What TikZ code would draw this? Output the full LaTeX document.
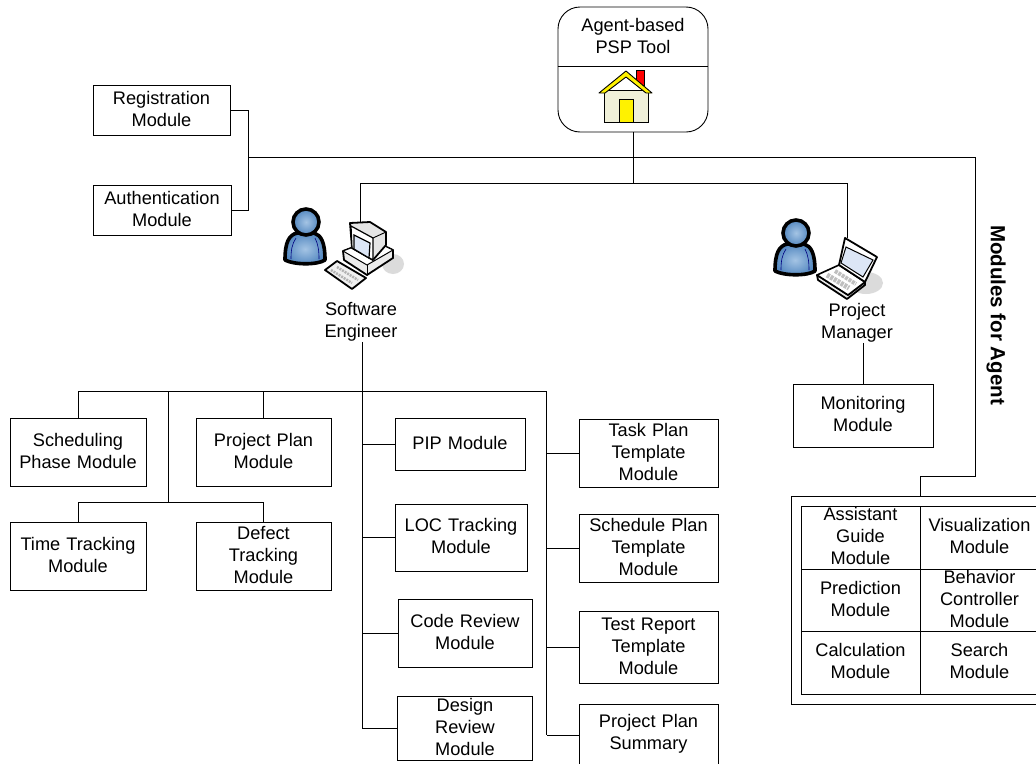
\documentclass[tikz,border=0pt]{standalone}
\usepackage{fontspec}
\setmainfont{Liberation Sans}
\usetikzlibrary{positioning, calc}
\definecolor{myskin}{HTML}{F0F0D8}
\definecolor{mylight}{HTML}{A4C4E4}
\definecolor{myface}{HTML}{5488C0}
\definecolor{myscreen}{HTML}{DCE6F6}
\tikzset{
  person/.pic={
    \draw[line width=3.6pt,line join=round,inner color=mylight,outer color=myface]
      (-9,11) .. controls (-17,13) and (-21,20) .. (-21,38)
      .. controls (-12,43) and (12,43) .. (19,38)
      .. controls (19,20) and (15,13) .. (8,11) -- cycle;
    \draw[line width=3.6pt,inner color=mylight,outer color=myface] (0,0) circle (13);
    \draw[blue!50!black,line width=.6pt] (-15,37) .. controls (-15,28) and (-14,22) .. (-10,16);
    \draw[blue!50!black,line width=.6pt] (13,37) .. controls (13,28) and (12,22) .. (9,16);
  }
}
\begin{document}
\begin{tikzpicture}[x=1pt,y=-1pt,line width=.9pt,node distance=95pt]
  \tikzstyle{module}=[rectangle,draw,align=center,inner sep=0pt,text width=130pt,text height=10.5pt,minimum height=68pt,font=\fontsize{18.2}{22}\selectfont]
  \tikzstyle{label}=[align=center,inner sep=0pt,font=\fontsize{18.2}{22}\selectfont]
  \tikzstyle{cell}=[module,text width=117pt,minimum width=119pt,minimum height=63pt]
  \useasboundingbox (0,0) rectangle (1036,763);

  \node[module,minimum width=137pt,minimum height=50pt] (reg) at (161.5,110) {Registration\\Module};
  \node[module,minimum width=138pt,minimum height=50pt] (auth) at (162,210) {Authentication\\Module};

  \node[module,minimum width=136pt] (sched) at (78,452) {Scheduling\\Phase Module};
  \node[module,minimum width=135pt] (plan) at (263.5,452) {Project Plan\\Module};
  \node[module,minimum width=136pt] (time) at (78,556) {Time Tracking\\Module};
  \node[module,minimum width=135pt] (defect) at (263.5,556) {Defect\\Tracking\\Module};

  \node[module,minimum width=130pt,minimum height=52pt] (pip) at (460,444) {PIP Module};
  \node[module,minimum width=132pt,minimum height=67pt] (loc) at (461,537.5) {LOC Tracking\\Module};
  \node[module,minimum width=134pt] (code) at (465,633.5) {Code Review\\Module};
  \node[module,minimum width=135pt,minimum height=64pt] (design) [below of=code] {Design\\Review\\Module};

  \node[module,minimum width=139pt] (task) at (648.5,453) {Task Plan\\Template\\Module};
  \node[module,minimum width=139pt] (schedt) [below of=task] {Schedule Plan\\Template\\Module};
  \node[module,minimum width=139pt,minimum height=72pt] (test) [below of=schedt,node distance=99pt] {Test Report\\Template\\Module};
  \node[module,minimum width=139pt,minimum height=62pt] (summary) at (648.5,735) {Project Plan\\Summary};

  \node[module,minimum width=140pt,minimum height=63pt] (monitor) at (863,415.5) {Monitoring\\Module};

  % tool box on top
  \node[draw,rounded corners=22pt,minimum width=150pt,minimum height=125pt,inner sep=0pt] (root) at (633,69.5) {};
  \node[label] (title) at (633,36) {Agent-based\\PSP Tool};
  \draw (root.west |- 0,66) -- (root.east |- 0,66);
  \draw[fill=red] (636,70) rectangle (644,85);
  \draw[fill=myskin] (604,90) rectangle (648,122);
  \draw[fill=yellow,line join=round] (599,93) -- (626,71) -- (652,93) -- (646,93) -- (626,77) -- (605,93) -- cycle;
  \draw[fill=yellow] (619,99) rectangle (633,122);

  % users
  \pic at (306,222) {person};
  \pic at (796,233) {person};
  \fill[black!14] (393,264) ellipse (11 and 10);
  \fill[black!14] (866,283) ellipse (17 and 11);

  % desktop computer
  \draw[line width=1.8pt,line join=round,fill=black!8] (343,251) -- (344,260) -- (367,275) -- (393,258) -- (393,250) -- (372,240) -- cycle;
  \draw[line width=1pt,line join=round,fill=white] (343,251) -- (367,265) -- (393,250) -- (372,240) -- cycle;
  \draw[line width=.8pt] (367,265) -- (367,275);
  \draw[line width=1.8pt,line join=round,fill=black!10] (350,223) -- (370,222) -- (386,232) -- (386,245) -- (373,260) -- (352,248) -- cycle;
  \draw[line width=1.2pt,line join=round,fill=white] (351,226) -- (373,238) -- (373,260) -- (352,248) -- cycle;
  \draw[line width=1.2pt,fill=myscreen] (354,235) -- (370,243) -- (369,258) -- (354,249) -- cycle;
  \draw[line width=.9pt] (373,238) -- (386,232);
  \draw[line width=1.8pt,line join=round,fill=black!6] (325,270) -- (337,261) -- (366,278) -- (352,289) -- cycle;
  \draw[black!30,line width=2.5pt,dash pattern=on 2pt off 1pt] (331,270) -- (352,283);
  \draw[black!30,line width=2.5pt,dash pattern=on 2pt off 1pt] (337,267) -- (358,280);

  % laptop
  \draw[line width=1.8pt,line join=round,fill=black!8] (817,275) -- (818,280) -- (847,299) -- (865,285) -- (865,282) -- (848,295) -- cycle;
  \draw[line width=1.6pt,line join=round,fill=white] (817,275) -- (839,265) -- (865,282) -- (848,295) -- cycle;
  \draw[black!25,line width=5pt,dash pattern=on 3pt off 1pt] (827,275) -- (849,288);
  \draw[black!25,line width=4pt,dash pattern=on 3pt off 1pt] (835,271) -- (856,284);
  \draw[line width=1.8pt,line join=round,fill=white] (845,238) -- (877,257) -- (865,282) -- (839,265) -- cycle;
  \draw[line width=1pt,fill=myscreen] (846,247) -- (873,260) -- (863,277) -- (841,263) -- cycle;

  \coordinate (pc) at (360,222);
  \coordinate (laptop) at (847.5,238);
  \node[label] (engineer) at (361,322) {Software\\Engineer};
  \node[label] (manager) at (857,323) {Project\\Manager};
  \node[label,rotate=-90,font=\fontsize{20.5}{24}\selectfont\bfseries] (agentlabel) at (996,315) {Modules for Agent};

  % agent modules
  \draw (1037,496) -- (791,496) -- (791,704) -- (1037,704);
  \coordinate (agenttop) at (920,496);
  \node[cell] (assist) at (860.5,537.5) {Assistant\\Guide\\Module};
  \node[cell,minimum height=62pt] (predict) at (860.5,600) {Prediction\\Module};
  \node[cell] (calc) at (860.5,662.5) {Calculation\\Module};
  \node[cell] (visual) at (979.5,537.5) {Visualization\\Module};
  \node[cell,minimum height=62pt] (behavior) at (979.5,600) {Behavior\\Controller\\Module};
  \node[cell] (search) at (979.5,662.5) {Search\\Module};

  % junctions
  \coordinate (bus) at (633,157);
  \coordinate (split) at (633,183);
  \coordinate (left) at (248,157);
  \coordinate (seline) at (362,391);
  \coordinate (timeline) at (168,391);
  \coordinate (tplline) at (546.5,391);
  \coordinate (timebus) at (168,502);

  \draw (root.south) -- (split);
  \draw (reg.east) -| (left);
  \draw (auth.east) -| (left);
  \draw (left) -- (975,157) -- (975,476) -- (920,476) -- (agenttop);
  \draw (pc) -- (pc |- split) -- (split);
  \draw (laptop) -- (laptop |- split) -- (split);

  \draw (engineer.south -| seline) -- (seline |- design);
  \draw (sched.north) -- (sched.north |- seline) -- (tplline);
  \draw (plan.north) -- (plan.north |- seline);
  \draw (timeline) -- (timebus);
  \draw (time.north) -- (time.north |- timebus) -- (defect.north |- timebus) -- (defect.north);

  \draw (pip.west) -- (pip.west -| seline);
  \draw (loc.west) -- (loc.west -| seline);
  \draw (code.west) -- (code.west -| seline);
  \draw (design.west) -- (design.west -| seline);

  \draw (tplline) -- (tplline |- summary);
  \draw (task.west) -- (task.west -| tplline);
  \draw (schedt.west) -- (schedt.west -| tplline);
  \draw (test.west) -- (test.west -| tplline);
  \draw (summary.west) -- (summary.west -| tplline);

  \draw (manager.south -| monitor.north) -- (monitor.north);
\end{tikzpicture}
\end{document}
